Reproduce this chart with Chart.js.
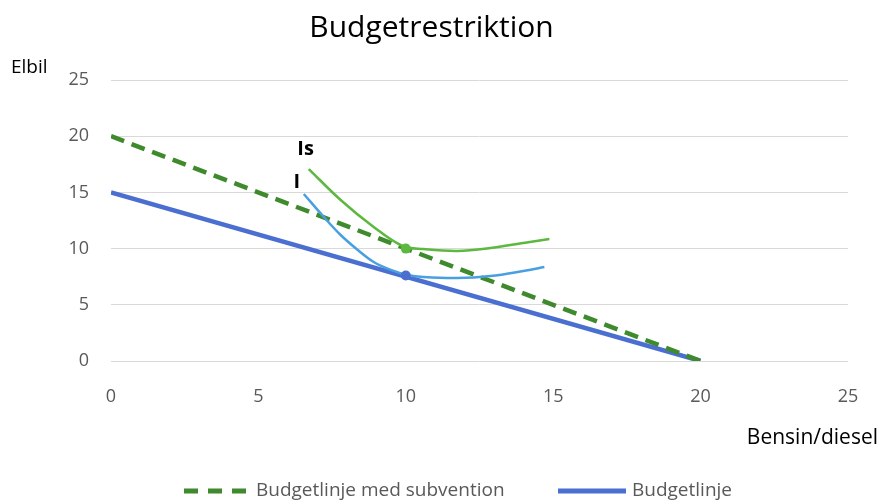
<!DOCTYPE html>
<html>
<head>
<meta charset="utf-8">
<script src="https://cdn.jsdelivr.net/npm/chart.js@4"></script>
<style>
  html, body { margin: 0; padding: 0; background: #fff; }
  #wrap { width: 881px; height: 501px; }
</style>
</head>
<body>
<div id="wrap"><canvas id="c" width="881" height="501"></canvas></div>
<script>
// Budget lines: quantity of petrol/diesel (x) vs. electric car (y)
const budgetSubsidyX = [0, 20];
const budgetSubsidyY = [20, 0];
const budgetX = [0, 20];
const budgetY = [15, 0];

// Indifference curve with subsidy (Is)
const curveIsX = [6.71, 7.79, 8.91, 9.89, 10.6, 11.75, 12.87, 13.99, 14.87];
const curveIsY = [17.08, 14.32, 11.92, 10.23, 9.96, 9.79, 10.05, 10.5, 10.85];

// Indifference curve without subsidy (I)
const curveIX = [6.54, 7.22, 7.79, 8.37, 8.91, 9.49, 10.06, 10.6, 11.75, 12.87, 13.99, 14.7];
const curveIY = [14.86, 12.81, 11.21, 9.88, 8.81, 8.1, 7.65, 7.47, 7.38, 7.56, 8.01, 8.36];

// Optimal consumption points
const optimumIsX = [10];
const optimumIsY = [10];
const optimumIX = [10];
const optimumIY = [7.6];

// Curve labels
const curveLabels = [
  { text: 'Is', x: 6.6, y: 18.8 },
  { text: 'I', x: 6.3, y: 15.9 }
];

const xTicks = [0, 5, 10, 15, 20, 25];
const yTicks = [0, 5, 10, 15, 20, 25];

const zip = (xs, ys) => xs.map((x, i) => ({ x, y: ys[i] }));

const FONT = "'Open Sans', 'Liberation Sans', sans-serif";

// Curve names, axis captions and a line-sample legend for the two budget lines
const annotate = {
  id: 'annotate',
  afterDraw(chart) {
    const { ctx, scales: { x, y } } = chart;
    ctx.save();
    ctx.fillStyle = '#000';
    ctx.textAlign = 'center';
    ctx.textBaseline = 'middle';
    ctx.font = "bold 20px " + FONT;
    curveLabels.forEach(l => ctx.fillText(l.text, x.getPixelForValue(l.x), y.getPixelForValue(l.y)));

    ctx.font = "19px " + FONT;
    ctx.textAlign = 'left';
    ctx.fillText('Elbil', 11, 68);
    ctx.font = "21px " + FONT;
    ctx.textAlign = 'right';
    ctx.fillText('Bensin/diesel', 878, 438);

    // legend
    const legendY = 491;
    const entries = [
      { ds: chart.data.datasets[0], x0: 184, x1: 246, tx: 256 },
      { ds: chart.data.datasets[1], x0: 558, x1: 626, tx: 632 }
    ];
    ctx.font = "19px " + FONT;
    ctx.textAlign = 'left';
    entries.forEach(e => {
      ctx.beginPath();
      ctx.strokeStyle = e.ds.borderColor;
      ctx.lineWidth = 5;
      ctx.setLineDash(e.ds.borderDash ? [14, 10] : []);
      ctx.moveTo(e.x0, legendY);
      ctx.lineTo(e.x1, legendY);
      ctx.stroke();
      ctx.fillStyle = '#595959';
      ctx.fillText(e.ds.label, e.tx, legendY);
    });
    ctx.restore();
  }
};

new Chart(document.getElementById('c'), {
  type: 'scatter',
  data: {
    datasets: [
      {
        label: 'Budgetlinje med subvention',
        data: zip(budgetSubsidyX, budgetSubsidyY),
        showLine: true,
        borderColor: '#3e8a2c',
        backgroundColor: '#3e8a2c',
        borderWidth: 4.5,
        borderDash: [14, 8],
        pointRadius: 0,
        order: 3
      },
      {
        label: 'Budgetlinje',
        data: zip(budgetX, budgetY),
        showLine: true,
        borderColor: '#4a6fd0',
        backgroundColor: '#4a6fd0',
        borderWidth: 4.5,
        pointRadius: 0,
        order: 4
      },
      {
        label: 'Is',
        data: zip(curveIsX, curveIsY),
        showLine: true,
        borderColor: '#5cb83e',
        borderWidth: 2.5,
        tension: 0.35,
        pointRadius: 0,
        order: 1
      },
      {
        label: 'I',
        data: zip(curveIX, curveIY),
        showLine: true,
        borderColor: '#4a9fe0',
        borderWidth: 2.5,
        tension: 0.35,
        pointRadius: 0,
        order: 2
      },
      {
        label: 'Optimum Is',
        data: zip(optimumIsX, optimumIsY),
        pointRadius: 5,
        pointBackgroundColor: '#5cb83e',
        pointBorderWidth: 0,
        order: 0
      },
      {
        label: 'Optimum I',
        data: zip(optimumIX, optimumIY),
        pointRadius: 5,
        pointBackgroundColor: '#4a6fd0',
        pointBorderWidth: 0,
        order: 0
      }
    ]
  },
  options: {
    responsive: false,
    animation: false,
    layout: { padding: { left: 15, right: 33, top: 0, bottom: 30 } },
    plugins: {
      title: {
        display: true,
        text: 'Budgetrestriktion',
        color: '#000',
        font: { family: FONT, size: 30, weight: 'normal' },
        padding: { top: 10, bottom: 34 }
      },
      legend: { display: false },
      tooltip: { enabled: false }
    },
    scales: {
      x: {
        type: 'linear',
        min: 0,
        max: 25,
        afterBuildTicks: s => { s.ticks = xTicks.map(v => ({ value: v })); },
        afterFit: s => { s.height = 110; },
        grid: { display: false },
        border: { display: false },
        ticks: { color: '#595959', font: { family: FONT, size: 18 }, padding: 17 }
      },
      y: {
        type: 'linear',
        min: 0,
        max: 25,
        afterBuildTicks: s => { s.ticks = yTicks.map(v => ({ value: v })); },
        afterFit: s => { s.width = 96; },
        grid: { color: '#d9d9d9', lineWidth: 1, drawTicks: false },
        border: { display: false },
        ticks: { color: '#595959', font: { family: FONT, size: 18 }, padding: 22 }
      }
    }
  },
  plugins: [annotate]
});
</script>
</body>
</html>
